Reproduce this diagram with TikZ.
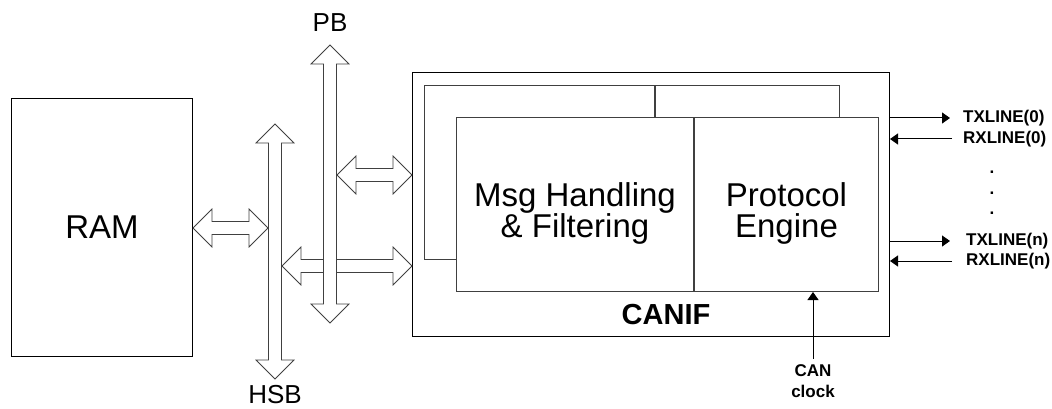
\documentclass[tikz,border=0pt]{standalone}
\usepackage{fontspec}
\setmainfont{Liberation Sans}
\usetikzlibrary{calc,arrows.meta}

\tikzset{
  box/.style={draw, line width=1pt, inner sep=0pt},
  innerbox/.style={draw=black!75, line width=1pt, fill=white, inner sep=0pt},
  bigtext/.style={font=\fontsize{33}{31}\selectfont, align=center},
  buslabel/.style={font=\fontsize{26}{28}\selectfont, inner sep=0pt},
  siglabel/.style={font=\fontsize{17}{20.5}\selectfont\bfseries, inner sep=0pt, align=center},
  sigarrow/.style={line width=1pt, -{Triangle[length=8pt,width=11pt]}},
  % hollow block arrow with a head at each end
  busarrow/.style={draw=black!75, fill=white, line width=0.8pt, to path={
    -- ($(\tikztostart)!19pt!(\tikztotarget)!19pt!90:(\tikztotarget)$)
    -- ($(\tikztostart)!19pt!(\tikztotarget)!6.5pt!90:(\tikztotarget)$)
    -- ($(\tikztotarget)!19pt!(\tikztostart)!6.5pt!-90:(\tikztostart)$)
    -- ($(\tikztotarget)!19pt!(\tikztostart)!19pt!-90:(\tikztostart)$)
    -- (\tikztotarget)
    -- ($(\tikztotarget)!19pt!(\tikztostart)!19pt!90:(\tikztostart)$)
    -- ($(\tikztotarget)!19pt!(\tikztostart)!6.5pt!90:(\tikztostart)$)
    -- ($(\tikztostart)!19pt!(\tikztotarget)!6.5pt!-90:(\tikztotarget)$)
    -- ($(\tikztostart)!19pt!(\tikztotarget)!19pt!-90:(\tikztotarget)$)
    -- cycle}}
}

\begin{document}
\begin{tikzpicture}[x=1pt, y=-1pt]
  \useasboundingbox (0,0) rectangle (1052,409);

  % memory
  \node[box, bigtext, anchor=north west, minimum width=181pt, minimum height=258pt] (ram) at (11,98) {RAM};

  % CAN interface with shadow copy behind
  \node[box, anchor=north west, minimum width=477pt, minimum height=264pt] (canif) at (412,72) {};
  \node[innerbox, anchor=north west, minimum width=230pt, minimum height=174pt] (backl) at (424,85) {};
  \node[innerbox, anchor=north west, minimum width=184pt, minimum height=174pt] (backr) at (backl.north east) {};
  \node[innerbox, anchor=north west, minimum width=237pt, minimum height=174pt] (msg) at (456,117) {};
  \node[innerbox, anchor=north west, minimum width=184pt, minimum height=174pt] (proto) at (msg.north east) {};
  \node[bigtext] (msgl) at ([yshift=-9pt]msg.center) {Msg Handling\\\& Filtering};
  \node[bigtext] (protol) at ([yshift=-9pt]proto.center) {Protocol\\Engine};
  \node[font=\fontsize{29}{30}\selectfont\bfseries] (canifl) at (666,315) {CANIF};

  % buses
  \node[buslabel] (pb) at (330,23) {PB};
  \node[buslabel] (hsb) at (275,395) {HSB};
  \coordinate (pbtop) at (330,45);
  \coordinate (pbbot) at (330,323);
  \coordinate (hsbtop) at (275,124);
  \coordinate (hsbbot) at (275,379);

  \coordinate (ramio) at (ram.east |- 0,228);
  \coordinate (hsbw) at (268,228);
  \coordinate (hsbe) at (282,266);
  \coordinate (canifw1) at (canif.west |- 0,266);
  \coordinate (pbe) at (337,175);
  \coordinate (canifw2) at (canif.west |- 0,175);

  \draw[busarrow] (hsbtop) to (hsbbot);
  \draw[busarrow] (ramio) to (hsbw);
  \draw[busarrow] (hsbe) to (canifw1);
  \draw[busarrow] (pbtop) to (pbbot);
  \draw[busarrow] (pbe) to (canifw2);

  % CAN lines
  \node[siglabel, anchor=west] (tx0) at (963,118) {TXLINE(0)};
  \node[siglabel, anchor=west] (rx0) at (963,139) {RXLINE(0)};
  \node[siglabel] (dots) at (992,193) {.\\.\\.};
  \node[siglabel, anchor=west] (txn) at (966,241) {TXLINE(n)};
  \node[siglabel, anchor=west] (rxn) at (966,261) {RXLINE(n)};
  \draw[sigarrow] (canif.east |- tx0) -- ([xshift=-13pt]tx0.west);
  \draw[sigarrow] ([xshift=-11pt]rx0.west) -- (canif.east |- rx0);
  \draw[sigarrow] (canif.east |- txn) -- ([xshift=-16pt]txn.west);
  \draw[sigarrow] ([xshift=-14pt]rxn.west) -- (canif.east |- rxn);

  % clock
  \node[siglabel] (clk) at (813,381) {CAN\\clock};
  \draw[sigarrow] ([yshift=6pt]clk.north) -- (clk.north |- proto.south);
\end{tikzpicture}
\end{document}
